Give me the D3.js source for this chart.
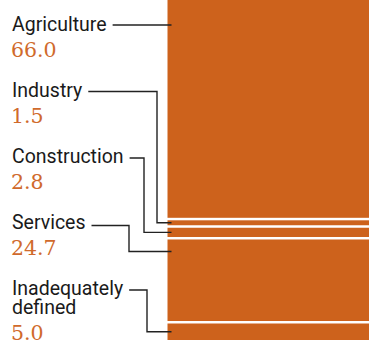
<!DOCTYPE html>
<html>
<head>
<meta charset="utf-8">
<script src="https://cdn.jsdelivr.net/npm/d3@7"></script>
<style>
  html, body { margin: 0; padding: 0; background: #fff; }
  svg { display: block; }
  .name { font-family: Roboto, sans-serif; font-size: 19.5px; fill: #1a1a1a; }
  .value { font-family: "DejaVu Serif", serif; font-size: 20.5px; fill: #d06a2c; }
  .leader { fill: none; stroke: #222; stroke-width: 1.4; }
</style>
</head>
<body>
<svg id="chart" width="369" height="343"></svg>
<script>
//

const categories = ['Agriculture', 'Industry', 'Construction', 'Services', 'Inadequately defined']
const values = [66.0, 1.5, 2.8, 24.7, 5.0]
const valueLabels = ['66.0', '1.5', '2.8', '24.7', '5.0']

// label layout: baseline of first name line, elbow x of the leader, leader y at the label
const labelBaselines = [31, 97, 163, 229, 295]
const leaderElbows = [null, 157, 144, 129, 147]
const leaderRise = [6, 5.5, 5, 3.5, 5]

const width = 369
const height = 343
const barX = 167.5
const barBottom = 340
const gap = 2.5
const barColor = '#cd621c'

//

const svg = d3.select('#chart')

const y = d3.scaleLinear()
  .domain([0, d3.sum(values)])
  .range([0, barBottom - gap * (values.length - 1)])

let acc = 0
const segments = values.map((v, i) => {
  const top = y(acc) + i * gap
  acc += v
  const bottom = y(acc) + i * gap
  return { name: categories[i], value: v, label: valueLabels[i], top, bottom, i }
})

svg.append('g')
  .selectAll('rect')
  .data(segments)
  .join('rect')
  .attr('x', barX)
  .attr('y', (d) => d.top)
  .attr('width', width - barX)
  .attr('height', (d) => d.bottom - d.top)
  .attr('fill', barColor)

//

const labels = svg.append('g')
  .selectAll('g')
  .data(segments)
  .join('g')

labels.each(function (d) {
  const g = d3.select(this)
  const base = labelBaselines[d.i]
  const lines = d.name === 'Inadequately defined' ? ['Inadequately', 'defined'] : [d.name]

  const name = g.append('text')
    .attr('class', 'name')
    .attr('x', 12)
    .attr('y', base)
  lines.forEach((t, k) => {
    name.append('tspan')
      .attr('x', 12)
      .attr('dy', k === 0 ? 0 : 19)
      .text(t)
  })

  g.append('text')
    .attr('class', 'value')
    .attr('x', 11)
    .attr('y', base + 26 + (lines.length - 1) * 19)
    .text(d.label)

  // leader line from end of first name line to the bar
  const textEnd = 12 + name.select('tspan').node().getComputedTextLength()
  const ly = base - leaderRise[d.i]
  const x0 = textEnd + 6
  const x1 = barX + 4
  let ty
  if (d.i === 0) ty = ly
  else if (d.name === 'Services') ty = d.top + 12
  else ty = (d.top + d.bottom) / 2

  const elbow = leaderElbows[d.i]
  const pts = elbow == null
    ? [[x0, ly], [x1, ly]]
    : [[x0, ly], [elbow, ly], [elbow, ty], [x1, ty]]

  g.append('path')
    .attr('class', 'leader')
    .attr('d', d3.line()(pts))
})
</script>
</body>
</html>
